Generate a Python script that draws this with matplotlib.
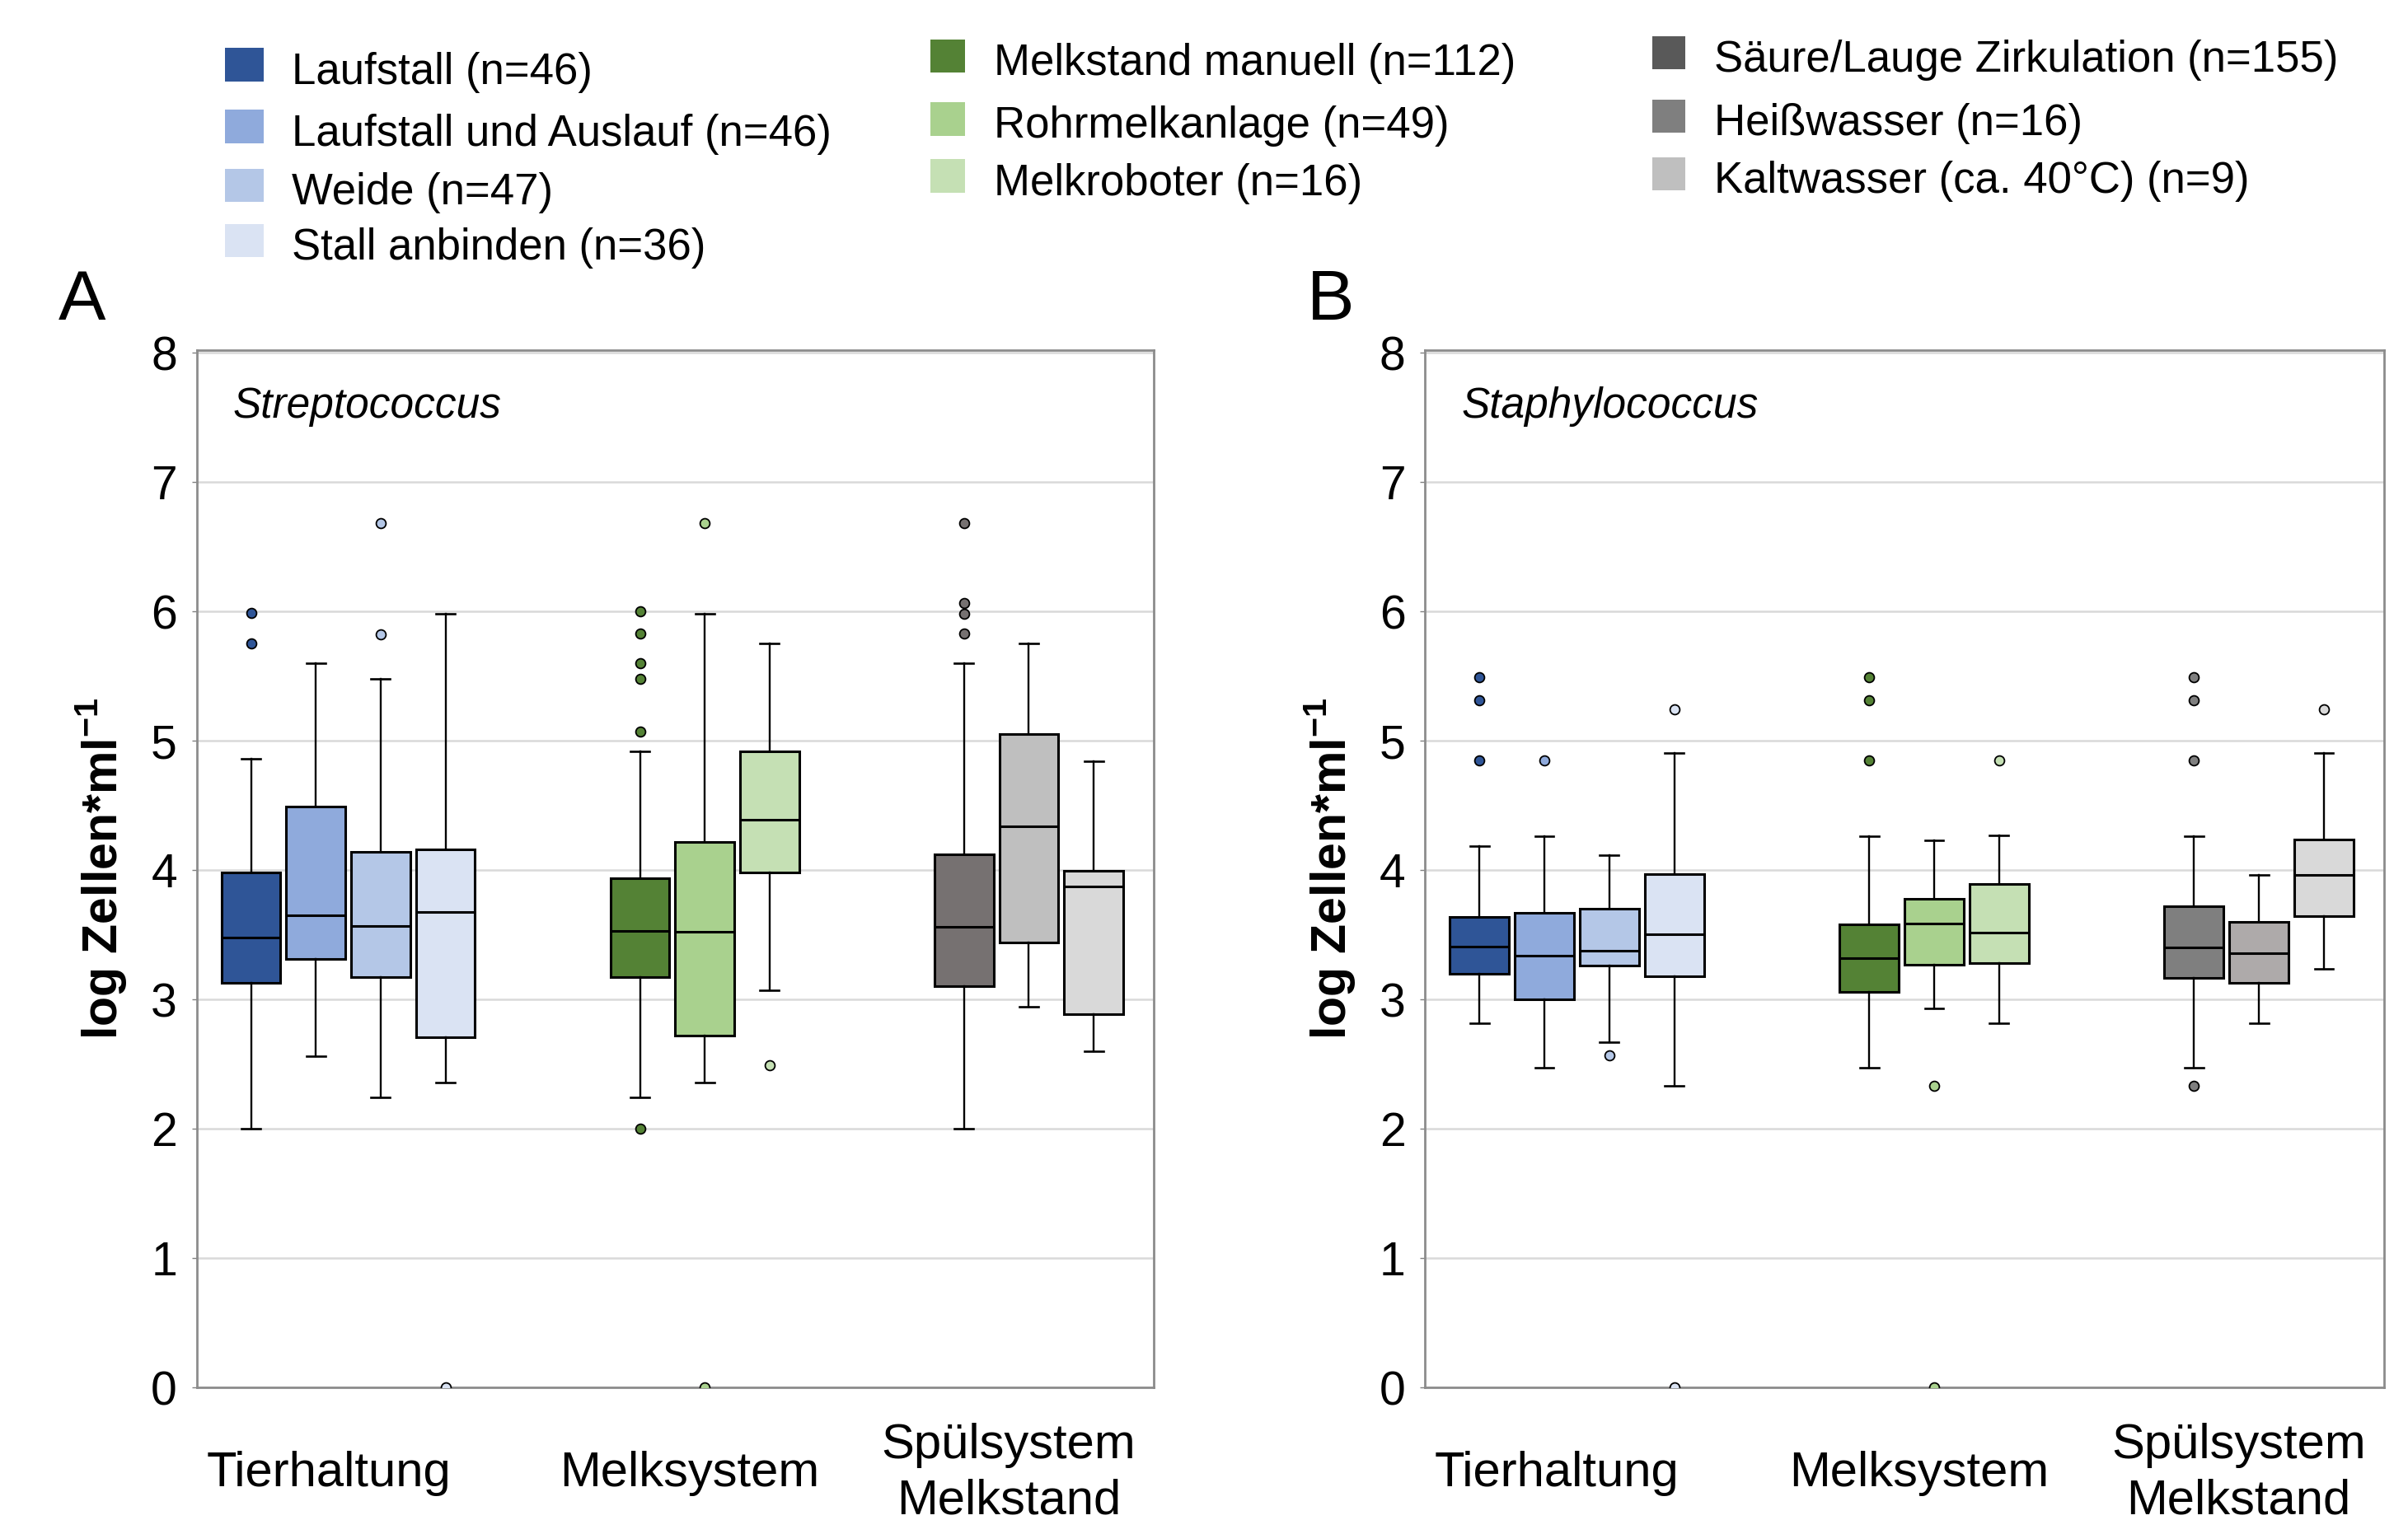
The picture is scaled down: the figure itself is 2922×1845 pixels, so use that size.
import matplotlib
matplotlib.use("Agg")
import matplotlib.pyplot as plt
from matplotlib.patches import Rectangle
from matplotlib.transforms import blended_transform_factory

plt.rcParams['font.family'] = ['Liberation Sans', 'DejaVu Sans']
plt.rcParams['mathtext.fontset'] = 'custom'
plt.rcParams['mathtext.rm'] = 'Liberation Sans'
plt.rcParams['mathtext.bf'] = 'Liberation Sans:bold'

# ---------------- data ----------------
groups = ["Tierhaltung", "Melksystem", "Spülsystem\nMelkstand"]
group_sizes = [4, 3, 3]

series_labels = ["Laufstall (n=46)", "Laufstall und Auslauf (n=46)", "Weide (n=47)", "Stall anbinden (n=36)",
                 "Melkstand manuell (n=112)", "Rohrmelkanlage (n=49)", "Melkroboter (n=16)",
                 "Säure/Lauge Zirkulation (n=155)", "Heißwasser (n=16)", "Kaltwasser (ca. 40°C) (n=9)"]

panel_titles = ["Streptococcus", "Staphylococcus"]
panel_letters = ["A", "B"]
y_ticks = [0, 1, 2, 3, 4, 5, 6, 7, 8]

# Panel A: Streptococcus
strep_q1 = [3.13, 3.31, 3.17, 2.71, 3.17, 2.72, 3.98, 3.10, 3.44, 2.885]
strep_med = [3.476, 3.65, 3.57, 3.675, 3.53, 3.52, 4.39, 3.56, 4.34, 3.87]
strep_q3 = [3.98, 4.49, 4.14, 4.16, 3.935, 4.216, 4.92, 4.12, 5.05, 3.995]
strep_lo = [2.0, 2.56, 2.24, 2.36, 2.24, 2.36, 3.07, 2.0, 2.94, 2.60]
strep_hi = [4.86, 5.60, 5.48, 5.98, 4.92, 5.98, 5.755, 5.60, 5.755, 4.84]
strep_fliers = [[5.99, 5.75], [], [6.685, 5.82], [0.0],
                [6.0, 5.83, 5.60, 5.48, 5.07, 2.0], [6.685, 0.0], [2.49],
                [6.685, 6.065, 5.98, 5.83], [], []]

# Panel B: Staphylococcus
staph_q1 = [3.198, 3.0, 3.259, 3.176, 3.059, 3.269, 3.281, 3.164, 3.127, 3.645]
staph_med = [3.411, 3.34, 3.377, 3.506, 3.318, 3.587, 3.518, 3.399, 3.355, 3.963]
staph_q3 = [3.638, 3.67, 3.699, 3.968, 3.577, 3.778, 3.895, 3.719, 3.597, 4.235]
staph_lo = [2.814, 2.472, 2.672, 2.333, 2.472, 2.929, 2.814, 2.472, 2.814, 3.235]
staph_hi = [4.188, 4.259, 4.117, 4.905, 4.259, 4.232, 4.267, 4.259, 3.963, 4.905]
staph_fliers = [[5.49, 5.31, 4.85], [4.85], [2.565], [5.24, 0.0],
                [5.49, 5.31, 4.85], [2.33, 0.0], [4.85],
                [5.49, 5.31, 4.85, 2.33], [], [5.24]]

# ---------------- styles ----------------
blues = ['#2F5597', '#8FAADC', '#B4C7E7', '#DAE3F3']
greens = ['#548235', '#A9D18E', '#C5E0B4']
colors_A = blues + greens + ['#767171', '#BFBFBF', '#D9D9D9']
colors_B = blues + greens + ['#7F7F7F', '#AEAAAA', '#D9D9D9']
legend_colors = blues + greens + ['#595959', '#7F7F7F', '#BFBFBF']

W, H = 2922, 1845
fig = plt.figure(figsize=(W / 100, H / 100), dpi=100)


def fx(x):
    return x / W


def fy(y):
    return 1 - y / H


# positions: groups separated by a gap of two slots
positions = []
start = 0
for n in group_sizes:
    positions += [start + i for i in range(n)]
    start += n + 2
label_x = [1.195, 6.77, 11.69]

panels = [
    (238.5, 1399.5, strep_q1, strep_med, strep_q3, strep_lo, strep_hi, strep_fliers, colors_A, 71),
    (1729, 2892.5, staph_q1, staph_med, staph_q3, staph_lo, staph_hi, staph_fliers, colors_B, 1586),
]

for pi, (x0, x1, q1, med, q3, lo, hi, fl, cols, letter_x) in enumerate(panels):
    ax = fig.add_axes([fx(x0), fy(1684), fx(x1 - x0), (1684 - 425) / H])
    stats = []
    for i in range(len(q1)):
        stats.append(dict(med=med[i], q1=q1[i], q3=q3[i], whislo=lo[i], whishi=hi[i], fliers=fl[i]))
    bp = ax.bxp(stats, positions=positions, widths=0.91, patch_artist=True, showfliers=True,
                capwidths=0.29,
                boxprops=dict(edgecolor='black', linewidth=2.2),
                medianprops=dict(color='black', linewidth=2.2),
                whiskerprops=dict(color='black', linewidth=1.7),
                capprops=dict(color='black', linewidth=1.9),
                flierprops=dict(marker='o', markersize=8.5, markeredgecolor='black', markeredgewidth=1.3))
    for box, c in zip(bp['boxes'], cols):
        box.set_facecolor(c)
    for f, c in zip(bp['fliers'], cols):
        f.set_markerfacecolor(c)
        f.set_clip_on(True)
    for art in bp['boxes'] + bp['medians'] + bp['whiskers'] + bp['caps'] + bp['fliers']:
        art.set_zorder(3)

    ax.set_xlim(-0.84, 13.92)
    ax.set_ylim(0, 8.02)
    ax.set_yticks(y_ticks)
    ax.set_yticklabels([str(t) for t in y_ticks])
    ax.set_xticks([])
    ax.yaxis.grid(True, color='#D9D9D9', linewidth=1.8, zorder=0)
    ax.set_axisbelow(True)
    ax.tick_params(axis='y', length=4.5, width=1.0, color='#808080', pad=12.5, labelsize=41)
    for s in ax.spines.values():
        s.set_color('#8C8C8C')
        s.set_linewidth(2.0)

    ax.set_ylabel(r'log Zellen*ml$^{\mathbf{-1}}$', fontsize=42.5, fontweight='bold')
    ax.yaxis.set_label_coords(-0.070, 0.5)

    ax.text(0.0383, 0.9349, panel_titles[pi], transform=ax.transAxes, fontsize=37,
            fontstyle='italic', ha='left', va='baseline')

    tr = blended_transform_factory(ax.transData, ax.transAxes)
    for gx, g in zip(label_x, groups):
        ax.text(gx, -0.083, g, transform=tr, fontsize=43, ha='center', va='center',
                linespacing=1.3)

    fig.text(fx(letter_x), fy(388), panel_letters[pi], fontsize=62, ha='left', va='baseline')

# ---------------- legend (manual, three columns) ----------------
legend_cols = [
    (273, 47, 354, [78.7, 153.7, 225.0, 292.0], [0, 1, 2, 3]),
    (1129, 42, 1206, [68.0, 144.2, 213.8], [4, 5, 6]),
    (2005, 40, 2080, [64.0, 141.0, 211.0], [7, 8, 9]),
]
ph = 40.7
for px, pw, tx, rows, idx in legend_cols:
    for yc, k in zip(rows, idx):
        fig.add_artist(Rectangle((fx(px), fy(yc + ph / 2)), pw / W, ph / H,
                                 transform=fig.transFigure, facecolor=legend_colors[k],
                                 edgecolor='none'))
        fig.text(fx(tx), fy(yc + 23), series_labels[k], fontsize=38, ha='left', va='baseline')

fig.savefig("out.png", dpi=100)
